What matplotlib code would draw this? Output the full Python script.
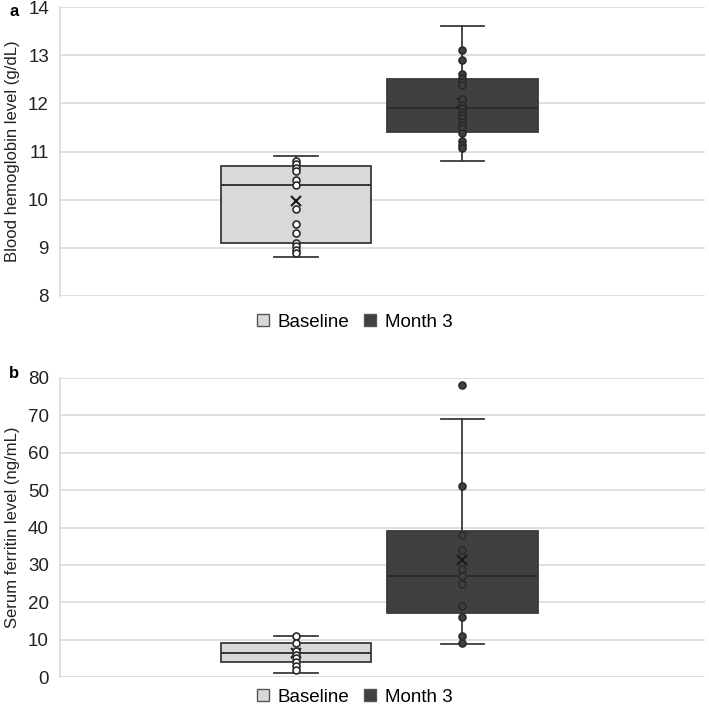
import matplotlib
matplotlib.use("Agg")
import matplotlib.pyplot as plt
from matplotlib.patches import Patch

plt.rcParams['font.family'] = ['Liberation Sans', 'DejaVu Sans']

series = ["Baseline", "Month 3"]

# Panel a: blood hemoglobin (g/dL)
hb_whislo = [8.8, 10.8]
hb_q1 = [9.1, 11.4]
hb_med = [10.3, 11.9]
hb_q3 = [10.7, 12.5]
hb_whishi = [10.9, 13.6]
hb_mean = [9.97, 12.0]
hb_points_baseline = [10.8, 10.75, 10.65, 10.6, 10.4, 10.3, 9.8, 9.5, 9.3, 9.1, 9.03, 8.96, 8.9]
hb_points_month3 = [13.1, 12.9, 12.6, 12.52, 12.45, 12.38, 12.09, 11.97, 11.9, 11.83, 11.76,
                    11.69, 11.62, 11.55, 11.48, 11.38, 11.21, 11.14, 11.07]

# Panel b: serum ferritin (ng/mL)
fe_whislo = [1.0, 8.8]
fe_q1 = [4.0, 17.0]
fe_med = [6.4, 27.0]
fe_q3 = [9.0, 39.0]
fe_whishi = [11.0, 69.0]
fe_mean = [6.4, 31.3]
fe_points_baseline = [11, 9, 7, 6, 5, 4, 3, 2]
fe_points_month3 = [78, 51, 38, 34, 29, 27, 25, 19, 16, 11, 9]

hb_ticks = [8, 9, 10, 11, 12, 13, 14]
fe_ticks = [0, 10, 20, 30, 40, 50, 60, 70, 80]

fills = ["#d9d9d9", "#404040"]
point_faces = ["white", "#404040"]
edge = "#3a3a3a"
grid_c = "#d9d9d9"

W, H = 709, 712
fig = plt.figure(figsize=(W / 100, H / 100), dpi=100)

positions = [0.366, 0.624]
box_w = 0.233


def panel(rect, whislo, q1, med, q3, whishi, mean, pts, ticks, ylabel, leg_y):
    ax = fig.add_axes(rect)
    stats = []
    for i in range(2):
        stats.append(dict(whislo=whislo[i], q1=q1[i], med=med[i], q3=q3[i],
                          whishi=whishi[i], mean=mean[i], fliers=[], label=series[i]))
    bp = ax.bxp(stats, positions=positions, widths=box_w, patch_artist=True,
                showmeans=True, showfliers=False, capwidths=0.068,
                boxprops=dict(edgecolor=edge, linewidth=1.3),
                medianprops=dict(color="#2a2a2a", linewidth=1.3),
                whiskerprops=dict(color=edge, linewidth=1.3),
                capprops=dict(color=edge, linewidth=1.3),
                meanprops=dict(marker='x', markeredgecolor='#1a1a1a', markersize=7,
                               markeredgewidth=1.5))
    for patch, c in zip(bp['boxes'], fills):
        patch.set_facecolor(c)
    for i in range(2):
        ax.plot([positions[i]] * len(pts[i]), pts[i], linestyle='none', marker='o',
                markersize=5, markerfacecolor=point_faces[i], markeredgecolor='#2a2a2a',
                markeredgewidth=1.2, zorder=4)
    ax.set_xlim(0, 1)
    ax.set_ylim(ticks[0], ticks[-1])
    ax.set_yticks(ticks)
    ax.set_xticks([])
    ax.tick_params(axis='y', length=0, labelsize=13.5, pad=8, labelcolor='#222222')
    ax.yaxis.grid(True, color=grid_c, linewidth=1.2)
    ax.set_axisbelow(True)
    for s in ['top', 'right', 'bottom']:
        ax.spines[s].set_visible(False)
    ax.spines['left'].set_color(grid_c)
    ax.spines['left'].set_linewidth(1.2)
    ax.set_ylabel(ylabel, fontsize=12, color='#222222')
    ax.yaxis.set_label_coords((20 - 60) / (rect[2] * W), 0.5)
    handles = [Patch(facecolor=fills[i], edgecolor='#555555', label=series[i]) for i in range(2)]
    fig.legend(handles=handles, loc='center', bbox_to_anchor=(0.5, leg_y), ncol=2,
               frameon=False, fontsize=13.5, handlelength=0.65, handleheight=0.65,
               handletextpad=0.45, columnspacing=0.8)
    return ax


def rect_from_px(left, top, right, bottom):
    return [left / W, 1 - bottom / H, (right - left) / W, (bottom - top) / H]


ax_a = panel(rect_from_px(60, 7, 705, 296), hb_whislo, hb_q1, hb_med, hb_q3, hb_whishi,
             hb_mean, [hb_points_baseline, hb_points_month3], hb_ticks,
             "Blood hemoglobin level (g/dL)", 1 - 322 / H)
ax_b = panel(rect_from_px(60, 378, 705, 677), fe_whislo, fe_q1, fe_med, fe_q3, fe_whishi,
             fe_mean, [fe_points_baseline, fe_points_month3], fe_ticks,
             "Serum ferritin level (ng/mL)", 1 - 697 / H)

fig.text(9 / W, 1 - 11 / H, "a", fontsize=12, fontweight='bold', va='center', ha='left')
fig.text(9 / W, 1 - 374 / H, "b", fontsize=12, fontweight='bold', va='center', ha='left')

fig.savefig("out.png", dpi=100)
